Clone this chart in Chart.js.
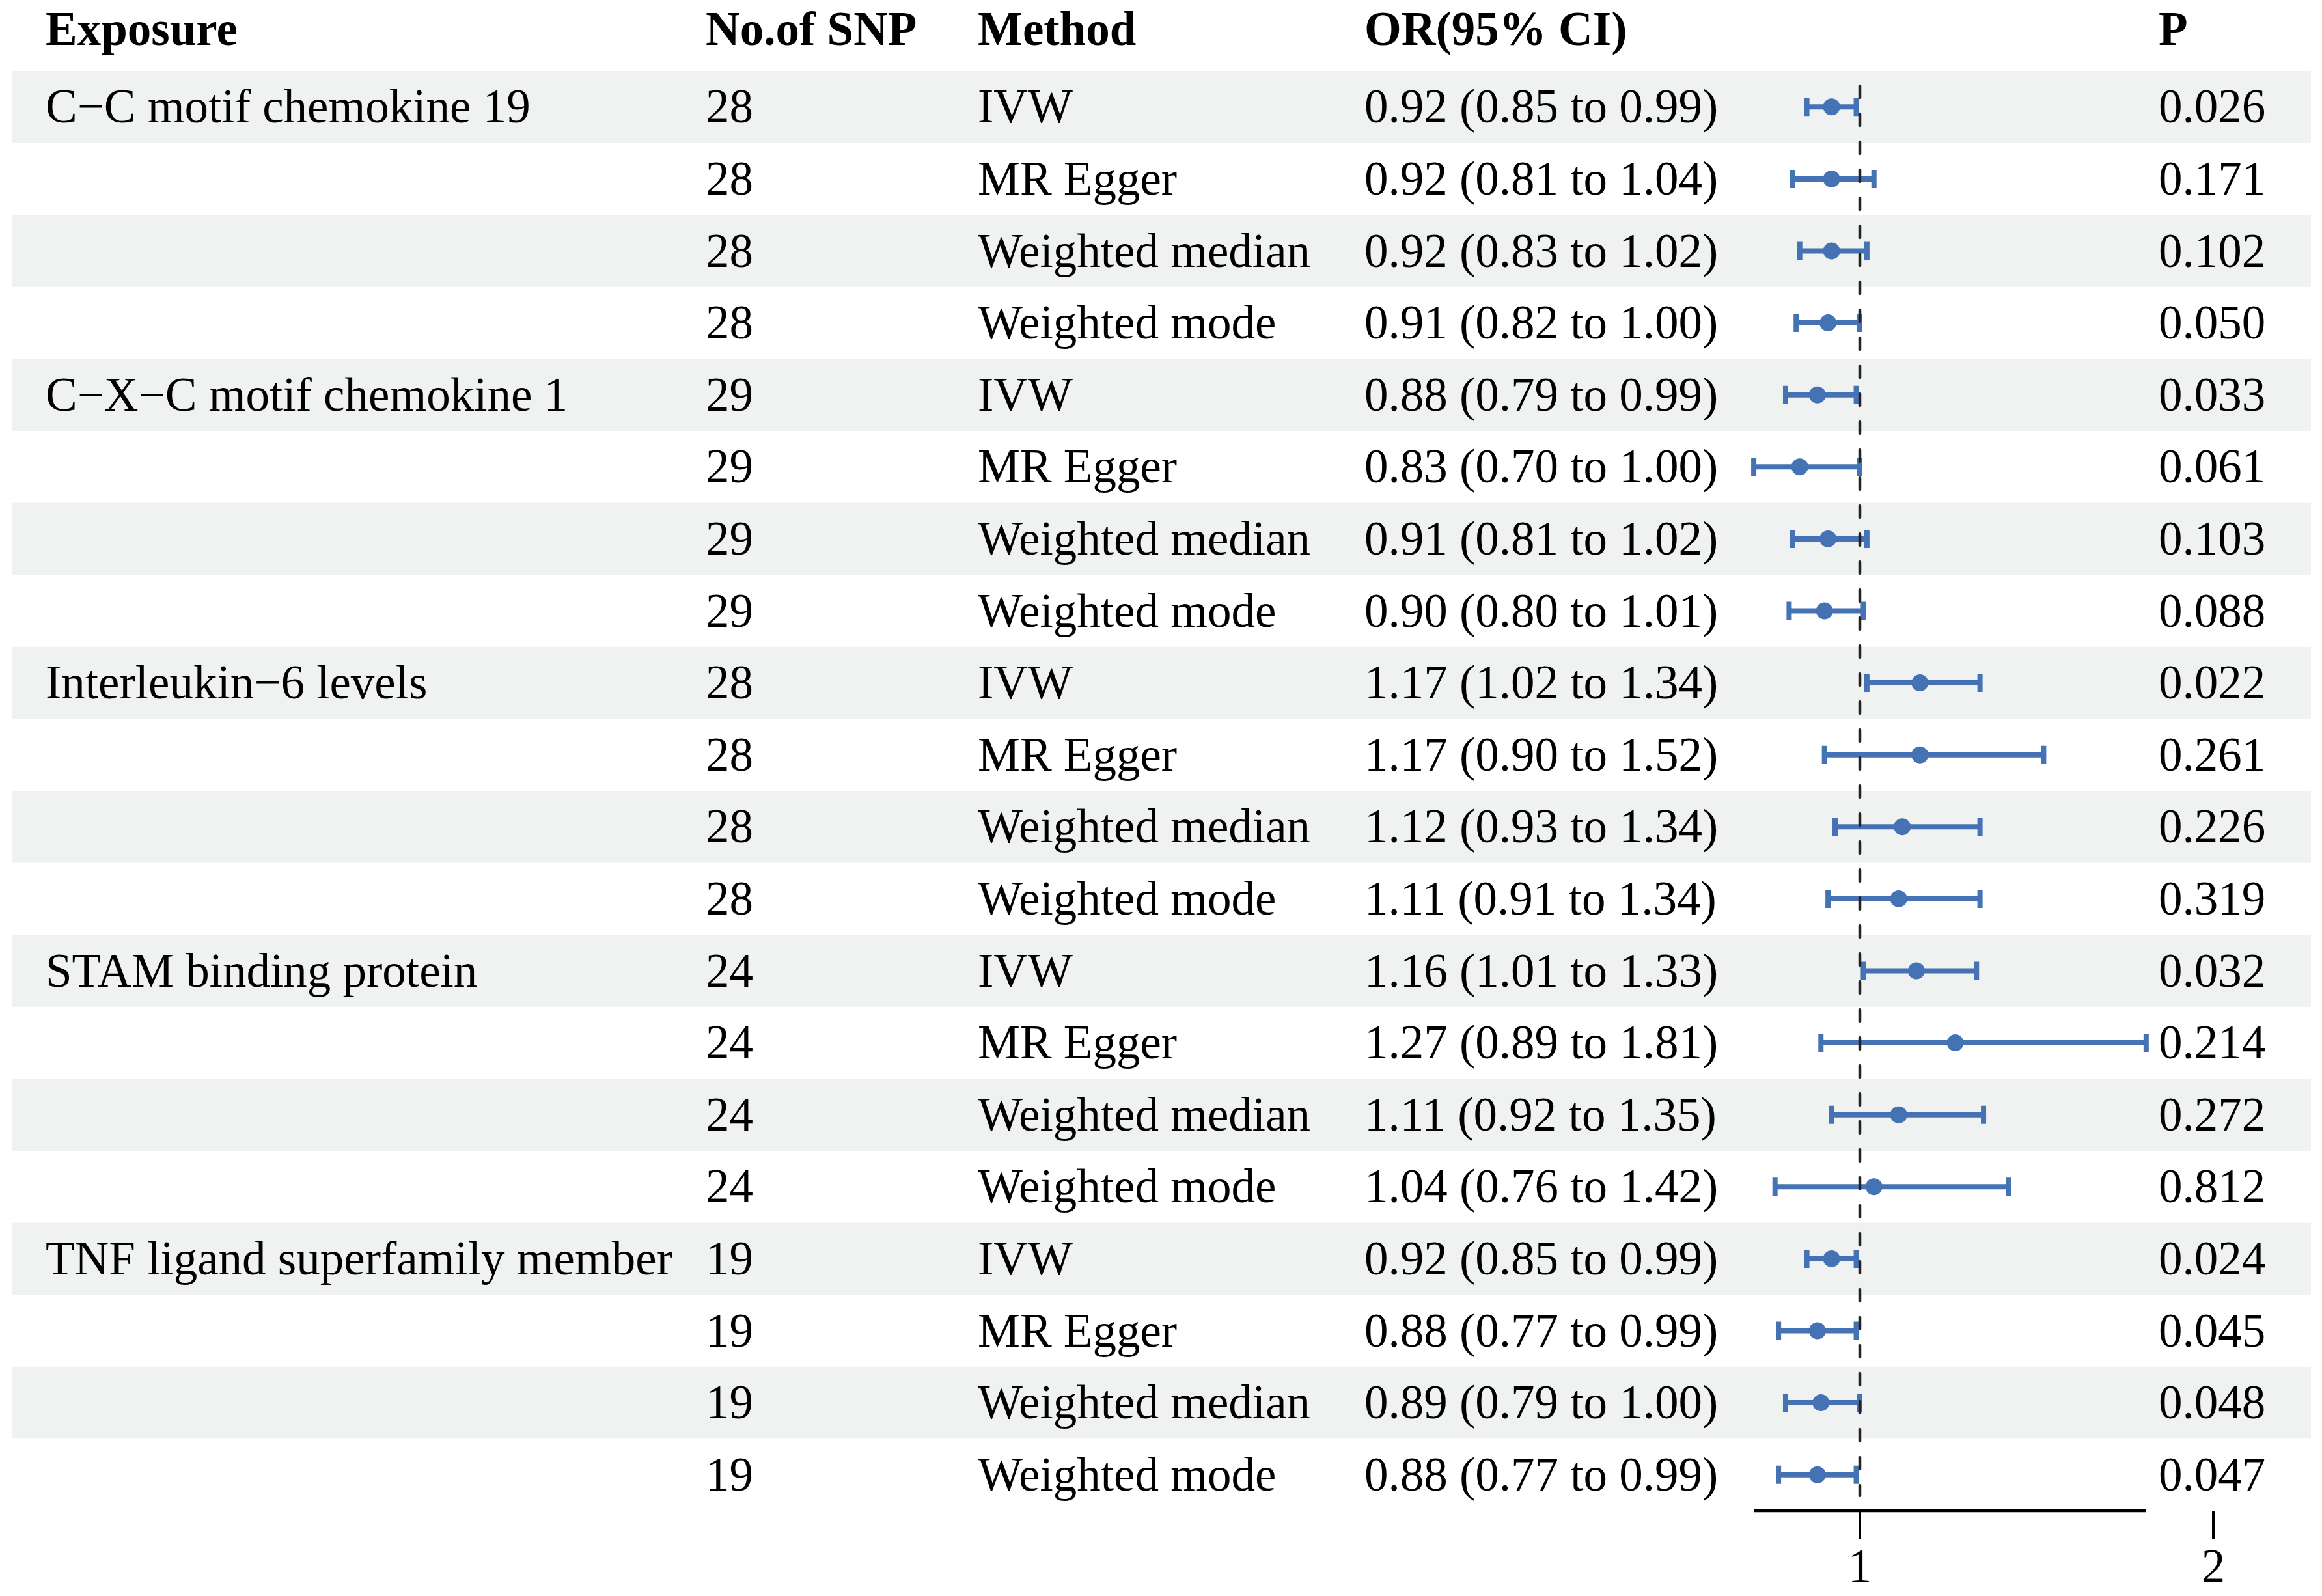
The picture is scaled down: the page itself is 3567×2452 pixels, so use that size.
<!DOCTYPE html>
<html>
<head>
<meta charset="utf-8">
<script src="https://cdn.jsdelivr.net/npm/chart.js@4"></script>
<style>
html,body{margin:0;padding:0;background:#fff;}
#c{display:block;}
</style>
</head>
<body>
<canvas id="c" width="3567" height="2452"></canvas>
<script>
const headers = ["Exposure", "No.of SNP", "Method", "OR(95% CI)", "P"];
const exposures = ["C\u2212C motif chemokine 19", "", "", "",
  "C\u2212X\u2212C motif chemokine 1", "", "", "",
  "Interleukin\u22126 levels", "", "", "",
  "STAM binding protein", "", "", "",
  "TNF ligand superfamily member", "", "", ""];
const snpCounts = [28, 28, 28, 28, 29, 29, 29, 29, 28, 28, 28, 28, 24, 24, 24, 24, 19, 19, 19, 19];
const methods = ["IVW", "MR Egger", "Weighted median", "Weighted mode",
  "IVW", "MR Egger", "Weighted median", "Weighted mode",
  "IVW", "MR Egger", "Weighted median", "Weighted mode",
  "IVW", "MR Egger", "Weighted median", "Weighted mode",
  "IVW", "MR Egger", "Weighted median", "Weighted mode"];
const oddsRatios = [0.92, 0.92, 0.92, 0.91, 0.88, 0.83, 0.91, 0.90, 1.17, 1.17, 1.12, 1.11, 1.16, 1.27, 1.11, 1.04, 0.92, 0.88, 0.89, 0.88];
const lowerCI = [0.85, 0.81, 0.83, 0.82, 0.79, 0.70, 0.81, 0.80, 1.02, 0.90, 0.93, 0.91, 1.01, 0.89, 0.92, 0.76, 0.85, 0.77, 0.79, 0.77];
const upperCI = [0.99, 1.04, 1.02, 1.00, 0.99, 1.00, 1.02, 1.01, 1.34, 1.52, 1.34, 1.34, 1.33, 1.81, 1.35, 1.42, 0.99, 0.99, 1.00, 0.99];
const pValues = ["0.026", "0.171", "0.102", "0.050", "0.033", "0.061", "0.103", "0.088", "0.022", "0.261", "0.226", "0.319", "0.032", "0.214", "0.272", "0.812", "0.024", "0.045", "0.048", "0.047"];
const xTickValues = [1, 2];
const referenceValue = 1;

const BLUE = "#4472B4";
const BAND = "#EFF2F1";
const FONT = '"Liberation Serif", "Times New Roman", serif';
const colX = [70, 1084, 1502, 2096, 3316];

const errorDatasets = oddsRatios.map((v, i) => ({
  type: "line",
  data: [{x: lowerCI[i], y: i}, {x: upperCI[i], y: i}],
  borderColor: BLUE,
  borderWidth: 8,
  pointStyle: "line",
  pointRotation: 90,
  pointRadius: 14,
  pointBorderWidth: 8,
  pointBorderColor: BLUE,
  pointBackgroundColor: BLUE,
  fill: false,
  order: 1
}));

const pointDataset = {
  type: "scatter",
  data: oddsRatios.map((v, i) => ({x: v, y: i})),
  pointRadius: 13,
  pointBackgroundColor: BLUE,
  pointBorderWidth: 0,
  showLine: false,
  order: 0
};

const tablePlugin = {
  id: "forestTable",
  beforeDatasetsDraw(chart) {
    const ctx = chart.ctx, ys = chart.scales.y;
    ctx.save();
    ctx.fillStyle = BAND;
    for (let i = 0; i < oddsRatios.length; i += 2) {
      const t = ys.getPixelForValue(i - 0.5), b = ys.getPixelForValue(i + 0.5);
      ctx.fillRect(18, t, 3550 - 18, b - t);
    }
    ctx.restore();
  },
  afterDatasetsDraw(chart) {
    const ctx = chart.ctx, xs = chart.scales.x, ys = chart.scales.y;
    ctx.save();
    // reference dashed line
    const xr = xs.getPixelForValue(referenceValue);
    ctx.strokeStyle = "#222";
    ctx.lineWidth = 4.5;
    ctx.lineCap = "round";
    ctx.setLineDash([18, 25]);
    ctx.beginPath();
    ctx.moveTo(xr, ys.getPixelForValue(-0.5) + 23);
    ctx.lineTo(xr, ys.getPixelForValue(oddsRatios.length - 0.5) - 23);
    ctx.stroke();
    ctx.setLineDash([]);
    // axis
    const axisY = ys.getPixelForValue(oddsRatios.length - 0.5);
    ctx.strokeStyle = "#000";
    ctx.lineCap = "butt";
    ctx.lineWidth = 4.5;
    ctx.beginPath();
    ctx.moveTo(xs.getPixelForValue(Math.min(...lowerCI)), axisY);
    ctx.lineTo(xs.getPixelForValue(Math.max(...upperCI)), axisY);
    ctx.stroke();
    ctx.lineWidth = 4;
    ctx.fillStyle = "#000";
    ctx.font = "73px " + FONT;
    ctx.textAlign = "center";
    ctx.textBaseline = "alphabetic";
    xTickValues.forEach(v => {
      const px = xs.getPixelForValue(v);
      ctx.beginPath();
      ctx.moveTo(px, axisY);
      ctx.lineTo(px, axisY + 44);
      ctx.stroke();
      ctx.fillText(String(v), px, axisY + 110);
    });
    // header
    ctx.textAlign = "left";
    ctx.font = "bold 73px " + FONT;
    const headBase = ys.getPixelForValue(-0.5) - 40;
    headers.forEach((h, j) => ctx.fillText(h, colX[j], headBase));
    // rows
    ctx.font = "73px " + FONT;
    oddsRatios.forEach((v, i) => {
      const base = ys.getPixelForValue(i) + 24;
      ctx.fillText(exposures[i], colX[0], base);
      ctx.fillText(String(snpCounts[i]), colX[1], base);
      ctx.fillText(methods[i], colX[2], base);
      ctx.fillText(v.toFixed(2) + " (" + lowerCI[i].toFixed(2) + " to " + upperCI[i].toFixed(2) + ")", colX[3], base);
      ctx.fillText(pValues[i], colX[4], base);
    });
    ctx.restore();
  }
};

new Chart(document.getElementById("c"), {
  type: "scatter",
  data: {datasets: [pointDataset, ...errorDatasets]},
  options: {
    responsive: false,
    devicePixelRatio: 1,
    animation: false,
    layout: {padding: {left: 2585.5, right: 58.4, top: 109, bottom: 131}},
    scales: {
      x: {type: "linear", min: 0.5, max: 2.2, display: false},
      y: {type: "linear", min: -0.5, max: 19.5, reverse: true, display: false}
    },
    plugins: {legend: {display: false}, tooltip: {enabled: false}}
  },
  plugins: [tablePlugin]
});
</script>
</body>
</html>
